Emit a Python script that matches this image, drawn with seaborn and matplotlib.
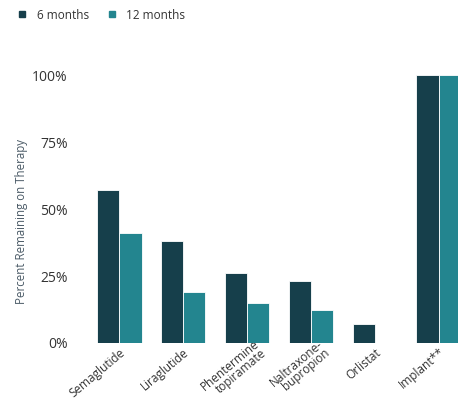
import numpy as np
import pandas as pd
import matplotlib
matplotlib.use("Agg")
import matplotlib.pyplot as plt
import matplotlib.transforms as mtransforms
from matplotlib.lines import Line2D
import seaborn as sns

drugs = ["Semaglutide", "Liraglutide", "Phentermine\ntopiramate",
         "Naltraxone-\nbupropion", "Orlistat", "Implant**"]
six_months = [57, 38, 26, 23, 7, 100]
twelve_months = [41, 19, 15, 12.5, np.nan, 100]
periods = ["6 months", "12 months"]
colors = ["#163f4b", "#23858f"]
y_ticks = [0, 25, 50, 75, 100]

df = pd.DataFrame({
    "drug": drugs * 2,
    "period": [periods[0]] * len(drugs) + [periods[1]] * len(drugs),
    "value": six_months + twelve_months,
})

sns.set_theme(style="white")
plt.rcParams["font.family"] = ["Open Sans", "DejaVu Sans"]

fig = plt.figure(figsize=(4.58, 4.04), dpi=100)
ax = fig.add_axes([0.175, 0.151, 0.825, 0.663])

sns.barplot(data=df, x="drug", y="value", hue="period", order=drugs,
            hue_order=periods, palette=colors, width=0.7, saturation=1,
            edgecolor="white", linewidth=0.6, legend=False, ax=ax)

ax.set_xlim(-0.61, 5.3)
ax.set_ylim(0, 100)
ax.set_yticks(y_ticks)
ax.set_yticklabels([f"{t}%" for t in y_ticks], fontsize=10, color="#333333")
ax.tick_params(axis="y", length=0, pad=9)
ax.tick_params(axis="x", length=0, pad=2)
ax.set_xticks(range(len(drugs)))
ax.set_xticklabels(drugs, rotation=40, ha="right", rotation_mode="anchor",
                   fontsize=8.5, color="#333333", linespacing=0.8)
# two-line labels sit a little higher so they stay inside the figure
for lbl in ax.get_xticklabels():
    if "\n" in lbl.get_text():
        lbl.set_transform(lbl.get_transform() +
                          mtransforms.ScaledTranslation(6 / 100, 8 / 100,
                                                        fig.dpi_scale_trans))
ax.set_xlabel("")
ax.set_ylabel("Percent Remaining on Therapy", fontsize=8.3, color="#4a5a66")
ax.yaxis.set_label_coords(-0.175 + 0.031 / 0.825, 0.455)
for s in ax.spines.values():
    s.set_visible(False)

handles = [Line2D([0], [0], marker="s", linestyle="none", markersize=5,
                  markerfacecolor=c, markeredgecolor=c) for c in colors]
fig.legend(handles, periods, loc="upper left", bbox_to_anchor=(0.0, 1.005),
           ncol=2, frameon=False, fontsize=8.5, handletextpad=0.2,
           columnspacing=1.0, labelcolor="#333333")

fig.savefig("out.png", dpi=100)
